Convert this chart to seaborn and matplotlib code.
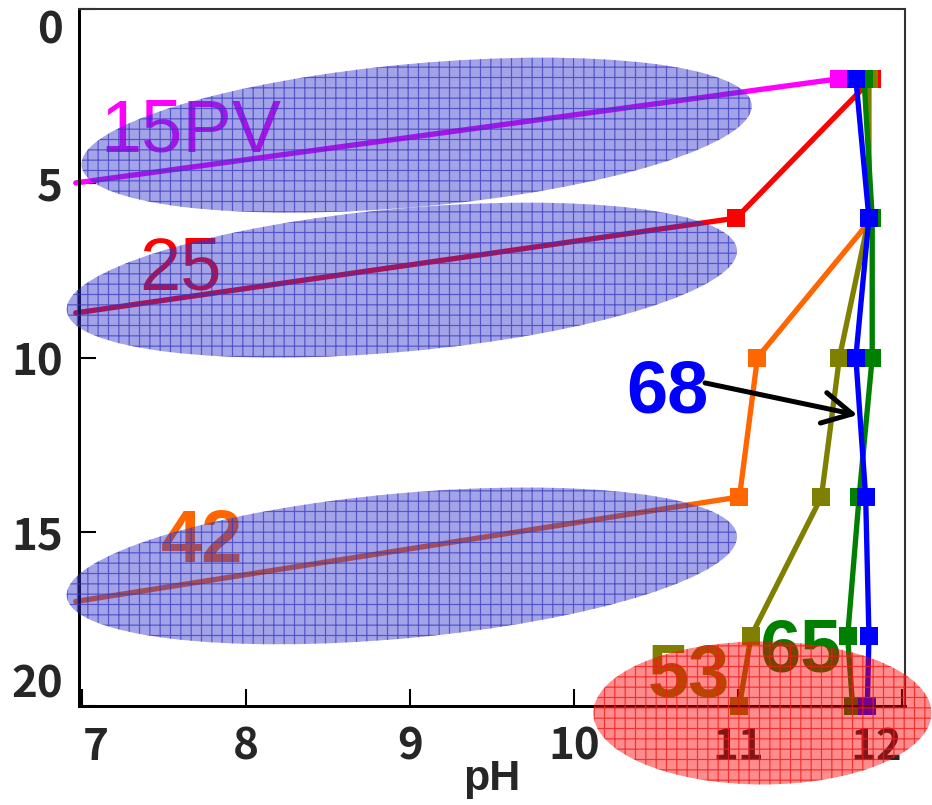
import pandas as pd
import seaborn as sns
import matplotlib.pyplot as plt
from matplotlib.patches import Ellipse
from matplotlib.transforms import ScaledTranslation

DPI = 124

# pH profiles against depth, one list per sample (first/last point w/o marker = trend line)
depth_15pv = [4.99, 2]
ph_15pv = [6.96, 11.62]
mark_15pv = [1]

depth_25 = [2, 6, 8.72]
ph_25 = [11.82, 10.99, 6.96]
mark_25 = [0, 1]

depth_42 = [6, 10, 14, 17.0]
ph_42 = [11.82, 11.12, 11.01, 6.96]
mark_42 = [0, 1, 2]

depth_full = [2, 6, 10, 14, 18, 20]
ph_53 = [11.80, 11.80, 11.62, 11.51, 11.08, 11.01]
ph_65 = [11.77, 11.82, 11.82, 11.74, 11.67, 11.70]
ph_68 = [11.72, 11.80, 11.72, 11.78, 11.80, 11.79]
mark_full = [0, 1, 2, 3, 4, 5]

names = ['15PV', '25', '42', '53', '65', '68']
colors = {'15PV': '#ff00ff', '25': '#ff0000', '42': '#ff6600',
          '53': '#808000', '65': '#008000', '68': '#0000ff'}

rows = []
for name, ph, dep in zip(names,
                         [ph_15pv, ph_25, ph_42, ph_53, ph_65, ph_68],
                         [depth_15pv, depth_25, depth_42, depth_full, depth_full, depth_full]):
    for p, d in zip(ph, dep):
        rows.append({'sample': name, 'pH': p, 'depth': d})
df = pd.DataFrame(rows)
marks = {'15PV': mark_15pv, '25': mark_25, '42': mark_42,
         '53': mark_full, '65': mark_full, '68': mark_full}

sns.set_style('ticks')
plt.rcParams['font.family'] = ['Noto Sans CJK JP', 'DejaVu Sans']
plt.rcParams['hatch.linewidth'] = 0.7

fig = plt.figure(figsize=(932 / DPI, 805 / DPI), dpi=DPI)
ax = fig.add_axes([79 / 932, (805 - 706) / 805, (905 - 79) / 932, (706 - 9) / 805])

for name in names:
    sub = df[df['sample'] == name]
    sns.lineplot(data=sub, x='pH', y='depth', ax=ax, sort=False, estimator=None,
                 color=colors[name], lw=3.1, marker='s', markersize=10,
                 markeredgewidth=0, markevery=marks[name], clip_on=False, zorder=2)

# sample labels
label_font = 'Liberation Sans'
ax.text(7.11, 4.10, '15PV', color=colors['15PV'], fontsize=43, family=label_font, zorder=3)
ax.text(7.35, 8.06, '25', color=colors['25'], fontsize=43, family=label_font, zorder=3)
ax.text(7.48, 15.87, '42', color=colors['42'], fontsize=43, family=label_font, fontweight='bold', zorder=3)
ax.text(10.32, 11.59, '68', color=colors['68'], fontsize=43, family=label_font, fontweight='bold', zorder=3)
ax.text(10.45, 19.74, '53', color=colors['53'], fontsize=43, family=label_font, fontweight='bold', zorder=3)
ax.text(11.13, 19.02, '65', color=colors['65'], fontsize=43, family=label_font, fontweight='bold', zorder=3)

ax.annotate('', xy=(11.73, 11.65), xytext=(10.80, 10.73),
            arrowprops=dict(arrowstyle='->,head_length=0.85,head_width=0.45', color='black',
                            lw=2.9, mutation_scale=20, shrinkA=0, shrinkB=0), zorder=4)


def add_ellipse(cx, cy, w_px, h_px, angle, face, hatch_col):
    tr = fig.dpi_scale_trans + ScaledTranslation(cx, cy, ax.transData)
    e = Ellipse((0, 0), w_px / DPI, h_px / DPI, angle=angle, transform=tr,
                facecolor=face, edgecolor=hatch_col, hatch='++', lw=0,
                zorder=5, clip_on=False)
    ax.add_patch(e)


blue_face = (0.2, 0.2, 0.8, 0.45)
blue_hatch = (0.2, 0.2, 0.75, 0.7)
add_ellipse(9.04, 3.62, 673, 143, 5.2, blue_face, blue_hatch)
add_ellipse(8.95, 7.78, 673, 143, 5.2, blue_face, blue_hatch)
add_ellipse(8.95, 15.98, 673, 145, 5.2, blue_face, blue_hatch)
add_ellipse(11.15, 20.2, 338, 143, 0, (1.0, 0.0, 0.0, 0.45), (0.95, 0.1, 0.1, 0.8))

ax.set_xlim(6.98, 12.02)
ax.set_ylim(20, 0)
ax.set_xticks([7, 8, 9, 10, 11, 12])
ax.set_yticks([0, 5, 10, 15, 20])
ax.tick_params(direction='in', length=9.9, width=1.2, labelsize=25.5, color='black')
ax.tick_params(axis='x', pad=11)
ax.tick_params(axis='y', pad=9.5)
for lab in ax.get_xticklabels() + ax.get_yticklabels():
    lab.set_fontweight('bold')
ax.get_xticklabels()[0].set_ha('left')
ax.get_xticklabels()[-1].set_ha('right')
ax.get_yticklabels()[0].set_va('top')
ax.get_yticklabels()[-1].set_va('bottom')

ax.set_xlabel('pH', fontsize=25, fontweight='bold', family=label_font, labelpad=-6)
ax.set_ylabel('')

for side in ['left', 'bottom']:
    ax.spines[side].set_linewidth(1.75)
    ax.spines[side].set_color('black')
for side in ['top', 'right']:
    ax.spines[side].set_linewidth(1.2)
    ax.spines[side].set_color('#333333')

fig.savefig('out.png', dpi=DPI)
